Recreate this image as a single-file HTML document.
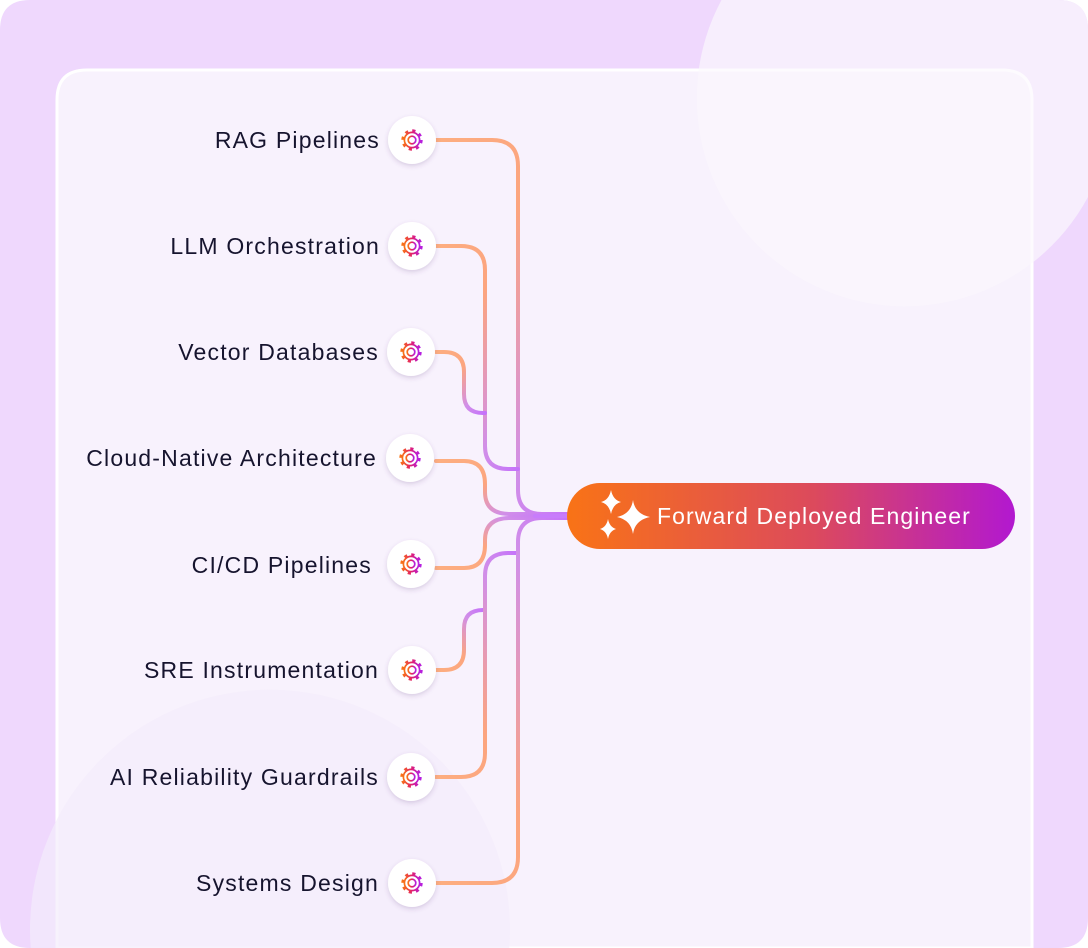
<!DOCTYPE html>
<html><head><meta charset="utf-8"><style>
html,body{margin:0;padding:0;width:1088px;height:948px;overflow:hidden;background:#fff;font-family:"Liberation Sans",sans-serif}
svg{display:block}
</style></head><body>
<svg width="1088" height="948" viewBox="0 0 1088 948" xmlns="http://www.w3.org/2000/svg">
<defs>
<linearGradient id="gd" x1="0" y1="0" x2="1" y2="1"><stop offset="0" stop-color="#fdae80"/><stop offset="0.4" stop-color="#fca57f"/><stop offset="0.75" stop-color="#d18fe8"/><stop offset="1" stop-color="#c572fb"/></linearGradient>
<linearGradient id="gu" x1="0" y1="1" x2="1" y2="0"><stop offset="0" stop-color="#fdae80"/><stop offset="0.4" stop-color="#fca57f"/><stop offset="0.75" stop-color="#d18fe8"/><stop offset="1" stop-color="#c572fb"/></linearGradient>
<linearGradient id="pill" x1="0" y1="0" x2="1" y2="0"><stop offset="0" stop-color="#f97316"/><stop offset="0.55" stop-color="#dc4a5c"/><stop offset="1" stop-color="#b218d0"/></linearGradient>
<linearGradient id="gear" x1="0" y1="0" x2="1" y2="0"><stop offset="0" stop-color="#f97316"/><stop offset="0.5" stop-color="#e11d6b"/><stop offset="1" stop-color="#b620e0"/></linearGradient>
<filter id="sh" x="-30%" y="-30%" width="160%" height="160%"><feDropShadow dx="0" dy="2" stdDeviation="2.5" flood-color="#5b3b7a" flood-opacity="0.2"/></filter>
<g id="gearI"><circle r="7.6" fill="none" stroke="url(#gear)" stroke-width="1.7"/><circle r="9.4" fill="none" stroke="url(#gear)" stroke-width="2.6" stroke-dasharray="3.2 4.18"/><circle r="3.8" fill="none" stroke="url(#gear)" stroke-width="1.7"/></g>
</defs>
<path d="M30,0 H1058 Q1088,0 1088,30 V918 Q1088,948 1058,948 H30 Q0,948 0,918 V30 Q0,0 30,0Z" fill="#efd8fd"/>
<path d="M721.5,0 A208,208 0 0 0 1088,197 L1088,30 Q1088,0 1058,0 Z" fill="#f3e4fd"/>
<path d="M57,948 V100 Q57,70 87,70 H1002 Q1032,70 1032,100 V948 Z" fill="#f8f2fd" stroke="#ffffff" stroke-width="3"/>
<path d="M721.5,0 A208,208 0 0 0 1088,197 L1088,30 Q1088,0 1058,0 Z" fill="#fbf7fe" opacity="0.5"/>
<path d="M30.7,948 A240,240 0 1 1 509.3,948 Z" fill="#f4edfb" opacity="0.7"/>
<g fill="none" stroke-width="4" stroke-linecap="round">
<path stroke="url(#gd)" d="M436,140 H492 Q518,140 518,166 V490 Q518,514 542,514 H570"/>
<path stroke="url(#gd)" d="M436,246 H461 Q485,246 485,270 V446 Q485,469 508,469 H518"/>
<path stroke="url(#gd)" d="M436,352 H444 Q464,352 464,372 V394 Q464,413 483,413 H485"/>
<path stroke="url(#gd)" d="M436,461 H464 Q485,461 485,484 V492 Q485,514 510,514 H570"/>
<path stroke="url(#gu)" d="M436,568 H464 Q485,568 485,545 V540 Q485,518 510,518 H570"/>
<path stroke="url(#gu)" d="M436,670 H444 Q464,670 464,650 V629 Q464,610 483,610 H485"/>
<path stroke="url(#gu)" d="M436,777 H461 Q485,777 485,753 V576 Q485,553 508,553 H518"/>
<path stroke="url(#gu)" d="M436,883 H492 Q518,883 518,857 V542 Q518,518 542,518 H570"/>
<path stroke="#c87cfb" d="M535,516 H575"/>
</g>
<g font-size="23" fill="#16142e" text-anchor="end" letter-spacing="1.2">
<text x="380" y="148">RAG Pipelines</text>
<text x="380" y="254">LLM Orchestration</text>
<text x="379" y="360">Vector Databases</text>
<text x="377" y="466">Cloud-Native Architecture</text>
<text x="372" y="573">CI/CD Pipelines</text>
<text x="379" y="678">SRE Instrumentation</text>
<text x="379" y="785">AI Reliability Guardrails</text>
<text x="379" y="891">Systems Design</text>
</g>
<g filter="url(#sh)" fill="#fff">
<circle cx="412" cy="140" r="24"/><circle cx="412" cy="246" r="24"/><circle cx="411" cy="352" r="24"/><circle cx="410" cy="458" r="24"/>
<circle cx="411" cy="564" r="24"/><circle cx="412" cy="670" r="24"/><circle cx="411" cy="777" r="24"/><circle cx="412" cy="883" r="24"/>
</g>
<use href="#gearI" x="412" y="140"/><use href="#gearI" x="412" y="246"/><use href="#gearI" x="411" y="352"/><use href="#gearI" x="410" y="458"/>
<use href="#gearI" x="411" y="564"/><use href="#gearI" x="412" y="670"/><use href="#gearI" x="411" y="777"/><use href="#gearI" x="412" y="883"/>
<rect x="567" y="483" width="448" height="66" rx="33" fill="url(#pill)"/>
<g fill="#fff">
<path d="M611,490 Q613,500 621,502 Q613,504 611,514 Q609,504 601,502 Q609,500 611,490Z"/>
<path d="M608,519 Q609.5,527 616,529 Q609.5,531 608,539 Q606.5,531 600,529 Q606.5,527 608,519Z"/>
<path d="M633,500 Q635,514 650,517 Q635,520 633,534 Q631,520 617,517 Q631,514 633,500Z"/>
</g>
<text x="657" y="524" font-size="23" fill="#fff" letter-spacing="1.1">Forward Deployed Engineer</text>
</svg>
</body></html>
